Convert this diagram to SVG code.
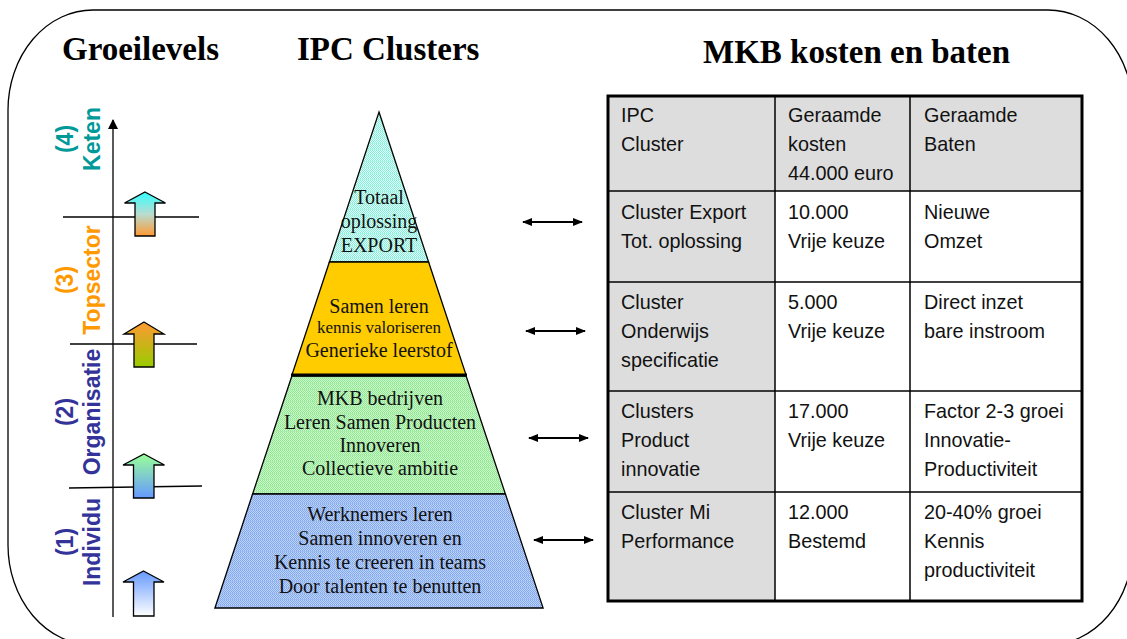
<svg xmlns="http://www.w3.org/2000/svg" width="1127" height="639" viewBox="0 0 1127 639">
  <defs>
    <style>
      .title { font-family: "Liberation Serif", "Times New Roman", serif; font-weight: bold; font-size: 33px; fill: #000; }
      .lvl { font-family: "Liberation Sans", Arial, sans-serif; font-weight: bold; font-size: 23px; text-anchor: middle; }
      .pyr { font-family: "Liberation Serif", "Times New Roman", serif; font-size: 20px; fill: #111; text-anchor: middle; }
      .pyr-s { font-size: 17px; }
      .cell { font-family: "Liberation Sans", Arial, sans-serif; font-size: 19.8px; fill: #111; }
      .axis { stroke: #000; stroke-width: 1.3; fill: none; }
      .blk { stroke: #000; stroke-width: 1.3; }
      .tier { stroke: #000; stroke-width: 1.3; }
      .link { stroke: #000; stroke-width: 2; marker-start: url(#head); marker-end: url(#head); }
      .grid { stroke: #000; stroke-width: 1.5; fill: none; }
    </style>
    <marker id="head" viewBox="0 0 10 8" refX="9" refY="4" markerWidth="10" markerHeight="8" markerUnits="userSpaceOnUse" orient="auto-start-reverse">
      <path d="M0 0 L10 4 L0 8 Z" fill="#000"/>
    </marker>
    <marker id="axisHead" viewBox="0 0 10 10" refX="5" refY="1" markerWidth="10" markerHeight="10" markerUnits="userSpaceOnUse" orient="0">
      <path d="M0 10 L5 0 L10 10 Z" fill="#000"/>
    </marker>

    <!-- dotted grid textures for the pyramid tiers -->
    <pattern id="texCyan" width="6" height="6" patternUnits="userSpaceOnUse">
      <rect width="6" height="6" fill="#eafffa"/>
      <path d="M0 0h1v1h-1zM2 0h1v1h-1zM4 0h1v1h-1zM1 1h1v1h-1zM3 1h1v1h-1zM5 1h1v1h-1zM0 2h1v1h-1zM2 2h1v1h-1zM4 2h1v1h-1zM1 3h1v1h-1zM3 3h1v1h-1zM5 3h1v1h-1zM0 4h1v1h-1zM2 4h1v1h-1zM4 4h1v1h-1z" fill="#7ff0da"/>
      <rect y="5" width="6" height="1" fill="#a8f5e6"/>
    </pattern>
    <pattern id="texGreen" width="6" height="6" patternUnits="userSpaceOnUse">
      <rect width="6" height="6" fill="#cff9cf"/>
      <path d="M0 0h1v1h-1zM2 0h1v1h-1zM4 0h1v1h-1zM1 1h1v1h-1zM3 1h1v1h-1zM5 1h1v1h-1zM0 2h1v1h-1zM2 2h1v1h-1zM4 2h1v1h-1zM1 3h1v1h-1zM3 3h1v1h-1zM5 3h1v1h-1zM0 4h1v1h-1zM2 4h1v1h-1zM4 4h1v1h-1z" fill="#8ee68e"/>
      <rect y="5" width="6" height="1" fill="#aaedaa"/>
    </pattern>
    <pattern id="texBlue" width="6" height="6" patternUnits="userSpaceOnUse">
      <rect width="6" height="6" fill="#bed3f8"/>
      <path d="M0 0h1v1h-1zM2 0h1v1h-1zM4 0h1v1h-1zM1 1h1v1h-1zM3 1h1v1h-1zM5 1h1v1h-1zM0 2h1v1h-1zM2 2h1v1h-1zM4 2h1v1h-1zM1 3h1v1h-1zM3 3h1v1h-1zM5 3h1v1h-1zM0 4h1v1h-1zM2 4h1v1h-1zM4 4h1v1h-1z" fill="#82a8ee"/>
      <rect y="5" width="6" height="1" fill="#9dbaf1"/>
    </pattern>

    <!-- block arrow gradients -->
    <linearGradient id="gKeten" x1="0" y1="0" x2="0" y2="1">
      <stop offset="0" stop-color="#33ffff"/>
      <stop offset="0.5" stop-color="#b8dcd0"/>
      <stop offset="1" stop-color="#ff9933"/>
    </linearGradient>
    <linearGradient id="gTop" x1="0" y1="0" x2="0" y2="1">
      <stop offset="0" stop-color="#ff9933"/>
      <stop offset="1" stop-color="#99cc00"/>
    </linearGradient>
    <linearGradient id="gOrg" x1="0" y1="0" x2="0" y2="1">
      <stop offset="0" stop-color="#99ff99"/>
      <stop offset="1" stop-color="#6699ff"/>
    </linearGradient>
    <linearGradient id="gInd" x1="0" y1="0" x2="0" y2="1">
      <stop offset="0" stop-color="#6699ff"/>
      <stop offset="1" stop-color="#ffffff"/>
    </linearGradient>
  </defs>

  <rect width="1127" height="639" fill="#fff"/>

  <!-- outer rounded frame -->
  <path d="M93 10 H1048 A85 100 0 0 1 1133 110 V545 A85 100 0 0 1 1048 645 H93 A85 100 0 0 1 8 545 V110 A85 100 0 0 1 93 10 Z" fill="none" stroke="#000" stroke-width="1.3"/>

  <!-- section titles -->
  <g id="titles">
    <text class="title" x="62" y="60">Groeilevels</text>
    <text class="title" x="297" y="60">IPC Clusters</text>
    <text class="title" x="703" y="63">MKB kosten en baten</text>
  </g>

  <!-- growth levels axis -->
  <g id="levels-axis">
    <line class="axis" x1="113" y1="617" x2="113" y2="120" marker-end="url(#axisHead)"/>
    <line class="axis" x1="63" y1="217" x2="199" y2="217"/>
    <line class="axis" x1="70" y1="344" x2="197" y2="344"/>
    <line class="axis" x1="69" y1="488" x2="202" y2="486"/>
  </g>

  <g id="level-keten">
    <text class="lvl" fill="#009999" transform="translate(73 139) rotate(-90)">(4)<tspan x="0" dy="27">Keten</tspan></text>
    <path class="blk" fill="url(#gKeten)" d="M145 192 L165.5 203 L155 203 L155 236 L135 236 L135 203 L124.5 203 Z"/>
  </g>
  <g id="level-topsector">
    <text class="lvl" fill="#ff9900" transform="translate(73 280) rotate(-90)">(3)<tspan x="0" dy="27">Topsector</tspan></text>
    <path class="blk" fill="url(#gTop)" d="M144 322 L164 334 L154 334 L154 367 L134 367 L134 334 L124 334 Z"/>
  </g>
  <g id="level-organisatie">
    <text class="lvl" fill="#333399" transform="translate(73 412) rotate(-90)">(2)<tspan x="0" dy="27">Organisatie</tspan></text>
    <path class="blk" fill="url(#gOrg)" d="M144 454 L164.5 465 L154 465 L154 498 L133.5 498 L133.5 465 L123 465 Z"/>
  </g>
  <g id="level-individu">
    <text class="lvl" fill="#333399" transform="translate(73 542) rotate(-90)">(1)<tspan x="0" dy="27">Individu</tspan></text>
    <path class="blk" fill="url(#gInd)" d="M143.5 571 L164 582 L154 582 L154 616 L133.5 616 L133.5 582 L123 582 Z"/>
  </g>

  <!-- IPC cluster pyramid -->
  <g id="tier-export">
    <polygon class="tier" fill="url(#texCyan)" points="379,112 428.6,262 329.4,262"/>
    <text class="pyr" x="379" y="204">Totaal</text>
    <text class="pyr" x="379" y="228">oplossing</text>
    <text class="pyr" x="379" y="252">EXPORT</text>
  </g>
  <g id="tier-onderwijs">
    <polygon class="tier" fill="#ffcc00" points="329.4,262 428.6,262 466.1,375 291.9,375"/>
    <text class="pyr" x="379" y="313">Samen leren</text>
    <text class="pyr pyr-s" x="379" y="333">kennis valoriseren</text>
    <text class="pyr" x="379" y="357">Generieke leerstof</text>
  </g>
  <g id="tier-product">
    <polygon class="tier" fill="url(#texGreen)" points="291.9,376 466.1,376 505.4,494 252.6,494"/>
    <line x1="291" y1="375" x2="467" y2="375" stroke="#000" stroke-width="3"/>
    <text class="pyr" x="380" y="405">MKB bedrijven</text>
    <text class="pyr" x="380" y="429">Leren Samen Producten</text>
    <text class="pyr" x="380" y="452">Innoveren</text>
    <text class="pyr" x="380" y="475">Collectieve ambitie</text>
  </g>
  <g id="tier-performance">
    <polygon class="tier" fill="url(#texBlue)" points="252.6,494 505.4,494 543.1,608 214.9,608"/>
    <text class="pyr" x="380" y="521">Werknemers leren</text>
    <text class="pyr" x="380" y="545">Samen innoveren en</text>
    <text class="pyr" x="380" y="569">Kennis te creeren in teams</text>
    <text class="pyr" x="380" y="593">Door talenten te benutten</text>
  </g>

  <!-- links between pyramid tiers and table rows -->
  <g id="connectors">
    <line class="link" x1="523" y1="222" x2="582" y2="222"/>
    <line class="link" x1="526" y1="331" x2="585" y2="331"/>
    <line class="link" x1="529" y1="438" x2="588" y2="438"/>
    <line class="link" x1="534" y1="540" x2="593" y2="540"/>
  </g>

  <!-- cost / benefit table -->
  <g id="cost-table">
    <rect x="608" y="96" width="474" height="95" fill="#dddddd"/>
    <rect x="608" y="191" width="167" height="410" fill="#dddddd"/>
    <line class="grid" x1="775" y1="96" x2="775" y2="601"/>
    <line class="grid" x1="910" y1="96" x2="910" y2="601"/>
    <line class="grid" x1="608" y1="191" x2="1082" y2="191"/>
    <line class="grid" x1="608" y1="282" x2="1082" y2="282"/>
    <line class="grid" x1="608" y1="391" x2="1082" y2="391"/>
    <line class="grid" x1="608" y1="492" x2="1082" y2="492"/>
    <rect x="608" y="96" width="474" height="505" fill="none" stroke="#000" stroke-width="3"/>

    <text class="cell" x="621" y="122">IPC</text>
    <text class="cell" x="621" y="151">Cluster</text>
    <text class="cell" x="788" y="122">Geraamde</text>
    <text class="cell" x="788" y="151">kosten</text>
    <text class="cell" x="788" y="180">44.000 euro</text>
    <text class="cell" x="924" y="122">Geraamde</text>
    <text class="cell" x="924" y="151">Baten</text>

    <text class="cell" x="621" y="219">Cluster Export</text>
    <text class="cell" x="621" y="248">Tot. oplossing</text>
    <text class="cell" x="788" y="219">10.000</text>
    <text class="cell" x="788" y="248">Vrije keuze</text>
    <text class="cell" x="924" y="219">Nieuwe</text>
    <text class="cell" x="924" y="248">Omzet</text>

    <text class="cell" x="621" y="309">Cluster</text>
    <text class="cell" x="621" y="338">Onderwijs</text>
    <text class="cell" x="621" y="367">specificatie</text>
    <text class="cell" x="788" y="309">5.000</text>
    <text class="cell" x="788" y="338">Vrije keuze</text>
    <text class="cell" x="924" y="309">Direct inzet</text>
    <text class="cell" x="924" y="338">bare instroom</text>

    <text class="cell" x="621" y="418">Clusters</text>
    <text class="cell" x="621" y="447">Product</text>
    <text class="cell" x="621" y="476">innovatie</text>
    <text class="cell" x="788" y="418">17.000</text>
    <text class="cell" x="788" y="447">Vrije keuze</text>
    <text class="cell" x="924" y="418">Factor 2-3 groei</text>
    <text class="cell" x="924" y="447">Innovatie-</text>
    <text class="cell" x="924" y="476">Productiviteit</text>

    <text class="cell" x="621" y="519">Cluster Mi</text>
    <text class="cell" x="621" y="548">Performance</text>
    <text class="cell" x="788" y="519">12.000</text>
    <text class="cell" x="788" y="548">Bestemd</text>
    <text class="cell" x="924" y="519">20-40% groei</text>
    <text class="cell" x="924" y="548">Kennis</text>
    <text class="cell" x="924" y="577">productiviteit</text>
  </g>
</svg>
